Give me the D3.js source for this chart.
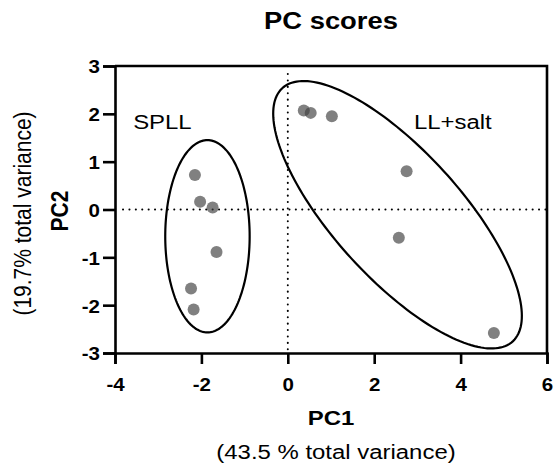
<!DOCTYPE html>
<html>
<head>
<meta charset="utf-8">
<script src="https://cdn.jsdelivr.net/npm/d3@7"></script>
<style>
  html, body { margin: 0; padding: 0; background: #fff; }
  svg { display: block; }
  text { font-family: "Liberation Sans", Arial, sans-serif; }
</style>
</head>
<body>
<svg id="chart" width="556" height="465"></svg>
<script>
// ---- data ----
const groups = ["SPLL", "LL+salt"];
const spllPC1 = [-2.15, -2.03, -1.74, -1.65, -2.24, -2.18];
const spllPC2 = [0.72, 0.16, 0.04, -0.89, -1.65, -2.09];
const llPC1 = [0.37, 0.53, 1.02, 2.75, 2.57, 4.77];
const llPC2 = [2.07, 2.02, 1.95, 0.80, -0.59, -2.58];
// ellipses: [centerX, centerY, semiMajor, semiMinor, angleDeg] in data units
const spllEllipse = [-1.86, -0.56, 0.977, 2.01, 0];
const llEllipse = [2.54, -0.11, 3.76, 1.40, -43.9];
const xTicks = [-4, -2, 0, 2, 4, 6];
const yTicks = [-3, -2, -1, 0, 1, 2, 3];
const xDomain = [-4, 6];
const yDomain = [-3, 3];

// ---- layout ----
const svg = d3.select("#chart");
const mLeft = 115, mRight = 547, mTop = 66, mBottom = 353;
const K = 1.14; // horizontal stretch of the lettering
const x = d3.scaleLinear().domain(xDomain).range([mLeft, mRight]);
const y = d3.scaleLinear().domain(yDomain).range([mBottom, mTop]);

function hText(tx, ty, size, bold, anchor, str) {
  return svg.append("text")
    .attr("transform", `translate(${tx},${ty}) scale(${K},1)`)
    .attr("text-anchor", anchor).attr("font-size", size)
    .attr("font-weight", bold ? "bold" : "normal").attr("fill", "#000").text(str);
}
function vText(tx, ty, size, bold, str) {
  return svg.append("text")
    .attr("transform", `translate(${tx},${ty}) scale(${K},1) rotate(-90)`)
    .attr("text-anchor", "middle").attr("font-size", size)
    .attr("font-weight", bold ? "bold" : "normal").attr("fill", "#000").text(str);
}

// title
hText((mLeft + mRight) / 2, 28.5, 24, true, "middle", "PC scores");

// zero lines (dotted)
svg.append("line").attr("x1", x(0)).attr("x2", x(0)).attr("y1", mTop + 8).attr("y2", mBottom)
  .attr("stroke", "#000").attr("stroke-width", 2).attr("stroke-dasharray", "0.1 6.3").attr("stroke-linecap", "round");
svg.append("line").attr("x1", mLeft + 8).attr("x2", mRight).attr("y1", y(0)).attr("y2", y(0))
  .attr("stroke", "#000").attr("stroke-width", 2).attr("stroke-dasharray", "0.1 6.3").attr("stroke-linecap", "round");

// frame top/right
svg.append("path").attr("d", `M${mLeft},${mTop}H${mRight}V${mBottom}`)
  .attr("fill", "none").attr("stroke", "#000").attr("stroke-width", 2.6);

// axes
const fmt = d => d < 0 ? "-" + Math.abs(d) : String(d);
const xAxis = svg.append("g").attr("transform", `translate(0,${mBottom})`)
  .call(d3.axisBottom(x).tickValues(xTicks).tickSize(11).tickFormat(fmt));
const yAxis = svg.append("g").attr("transform", `translate(${mLeft},0)`)
  .call(d3.axisLeft(y).tickValues(yTicks).tickSize(12).tickFormat(fmt));
[xAxis, yAxis].forEach(g => {
  g.select(".domain").attr("stroke-width", 2.6).attr("stroke", "#000");
  g.selectAll(".tick line").attr("stroke-width", 2.6).attr("stroke", "#000");
  g.selectAll(".tick text").attr("font-size", 18).attr("font-weight", "bold")
    .attr("font-family", '"Liberation Sans", Arial, sans-serif').attr("fill", "#000");
});
xAxis.selectAll(".tick text").attr("x", 0).attr("y", 0).attr("dy", 0)
  .attr("transform", `translate(0,37.5) scale(${K},1)`);
yAxis.selectAll(".tick text").attr("x", 0).attr("y", 0).attr("dy", "0.38em")
  .attr("transform", `translate(-15,0) scale(${K},1)`);

// axis titles
hText((mLeft + mRight) / 2, 425, 21, true, "middle", "PC1");
hText(336, 458.5, 21, false, "middle", "(43.5 % total variance)");
vText(68, 211, 21, true, "PC2");
vText(30.5, 213.5, 21, false, "(19.7% total variance)");

// ellipses
function ellipsePoints(e) {
  const [cx, cy, a, b, ang] = e;
  const th = ang * Math.PI / 180;
  return d3.range(0, 361, 2).map(t => {
    const r = t * Math.PI / 180;
    const ux = a * Math.cos(r), vy = b * Math.sin(r);
    return [cx + ux * Math.cos(th) - vy * Math.sin(th), cy + ux * Math.sin(th) + vy * Math.cos(th)];
  });
}
const line = d3.line().x(d => x(d[0])).y(d => y(d[1])).curve(d3.curveLinearClosed);
[spllEllipse, llEllipse].forEach(e => {
  svg.append("path").attr("d", line(ellipsePoints(e)))
    .attr("fill", "none").attr("stroke", "#000").attr("stroke-width", 2.2);
});

// points
const pts = spllPC1.map((v, i) => [v, spllPC2[i]]).concat(llPC1.map((v, i) => [v, llPC2[i]]));
svg.append("g").selectAll("circle").data(pts).join("circle")
  .attr("cx", d => x(d[0])).attr("cy", d => y(d[1])).attr("r", 6)
  .attr("fill", "#404040").attr("fill-opacity", 0.665);

// group labels
hText(x(-3.58), y(1.68), 21, false, "start", groups[0]);
hText(x(2.92), y(1.68), 21, false, "start", groups[1]);
</script>
</body>
</html>
